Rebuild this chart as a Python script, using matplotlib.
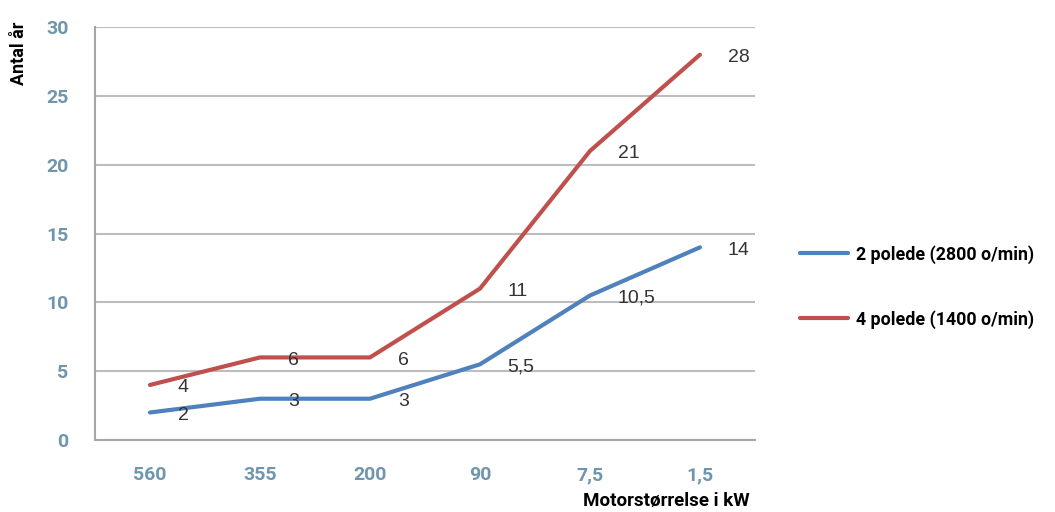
import matplotlib
matplotlib.use('Agg')
import matplotlib.pyplot as plt

# Data
categories = ["560", "355", "200", "90", "7,5", "1,5"]
pole2 = [2, 3, 3, 5.5, 10.5, 14]
pole4 = [4, 6, 6, 11, 21, 28]
label2 = ["2", "3", "3", "5,5", "10,5", "14"]
label4 = ["4", "6", "6", "11", "21", "28"]
series_names = ["2 polede (2800 o/min)", "4 polede (1400 o/min)"]

blue = "#4f81bd"
red = "#c0504d"
tick_col = "#6f96ad"

fig = plt.figure(figsize=(10.55, 5.12), dpi=100)
ax = fig.add_axes([0.090, 0.1406, 0.6256, 0.8064])

xs = list(range(len(categories)))
l2, = ax.plot(xs, pole2, color=blue, lw=3, solid_joinstyle='round', solid_capstyle='round')
l4, = ax.plot(xs, pole4, color=red, lw=3, solid_joinstyle='round', solid_capstyle='round')

# data labels, to the right of each point
for x, y, t in zip(xs, pole2, label2):
    ax.annotate(t, (x, y), xytext=(20, -2), textcoords='offset points',
                ha='left', va='center', fontsize=14, color='#333333',
                family='Liberation Sans')
for x, y, t in zip(xs, pole4, label4):
    ax.annotate(t, (x, y), xytext=(20, -2), textcoords='offset points',
                ha='left', va='center', fontsize=14, color='#333333',
                family='Liberation Sans')

ax.set_xlim(-0.5, 5.5)
ax.set_ylim(0, 30)
ax.set_yticks(range(0, 31, 5))
ax.set_xticks(xs)
ax.set_xticklabels(categories)
ax.grid(axis='y', color='#bdbdbd', lw=1.5)
ax.set_axisbelow(True)
for s in ['top', 'right']:
    ax.spines[s].set_visible(False)
for s in ['left', 'bottom']:
    ax.spines[s].set_color('#a6a6a6')
    ax.spines[s].set_linewidth(1.5)
ax.tick_params(length=0, colors=tick_col, labelsize=14)
ax.tick_params(axis='x', pad=19)
ax.tick_params(axis='y', pad=19)
for lab in ax.get_xticklabels() + ax.get_yticklabels():
    lab.set_fontweight('bold')
    lab.set_family('Roboto')

fig.text(0.018, 0.957, "Antal år", rotation=90, ha='center', va='top',
         fontsize=13, fontweight='bold', family='Roboto')
fig.text(0.711, 0.004, "Motorstørrelse i kW", ha='right', va='bottom',
         fontsize=13.5, fontweight='bold', family='Roboto')

leg = fig.legend([l2, l4], series_names, loc='center left',
                 bbox_to_anchor=(0.743, 0.44), frameon=False,
                 handlelength=2.7, handletextpad=0.45, labelspacing=2.6,
                 prop={'family': 'Roboto', 'weight': 'bold', 'size': 12.8})

fig.savefig("out.png", dpi=100)
